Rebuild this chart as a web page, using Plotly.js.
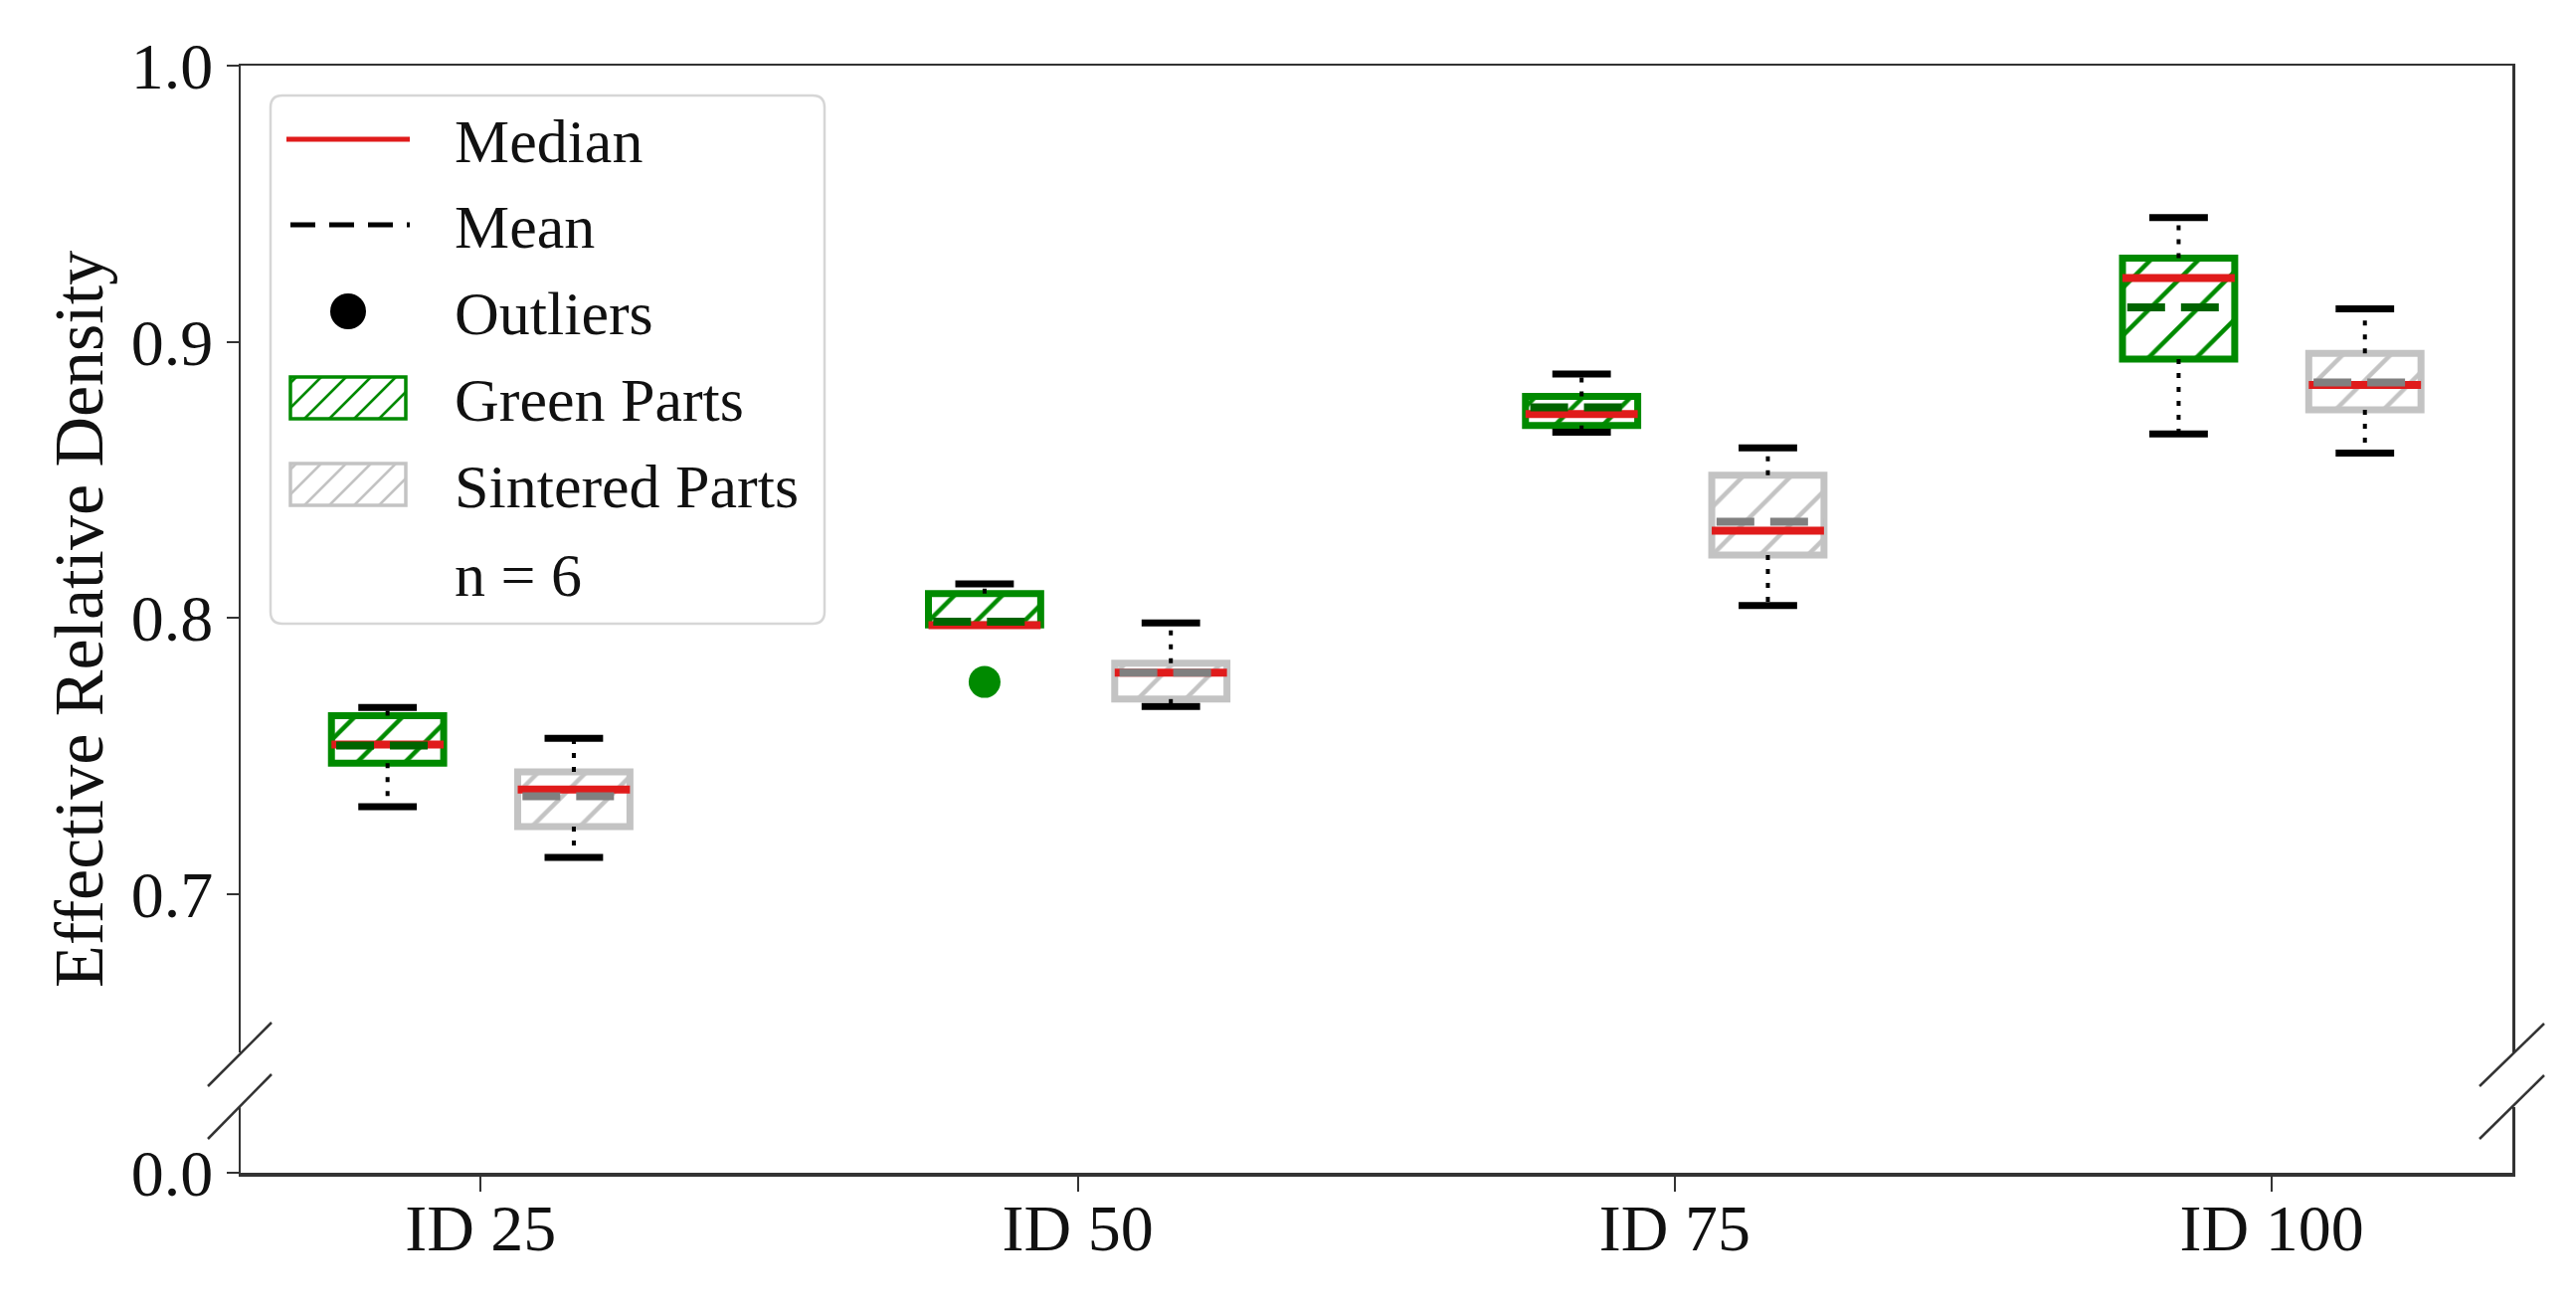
<!DOCTYPE html>
<html>
<head>
<meta charset="utf-8">
<script src="https://cdn.plot.ly/plotly-3.0.1.min.js"></script>
<style>html,body{margin:0;padding:0;background:#fff;}#chart{width:2590px;height:1321px;}</style>
</head>
<body>
<div id="chart"></div>
<script>
// ---------- data ----------
const categories = ['ID 25', 'ID 50', 'ID 75', 'ID 100'];

const greenLower  = [0.7316, 0.7975, 0.8673, 0.8666];
const greenQ1     = [0.7474, 0.7975, 0.8697, 0.8937];
const greenMedian = [0.7541, 0.7974, 0.8738, 0.9231];
const greenQ3     = [0.7646, 0.8088, 0.8802, 0.9303];
const greenUpper  = [0.7676, 0.8123, 0.8883, 0.9450];
const greenMean   = [0.7538, 0.7986, 0.8763, 0.9125];

const sinterLower  = [0.7133, 0.7679, 0.8045, 0.8597];
const sinterQ1     = [0.7244, 0.7706, 0.8228, 0.8754];
const sinterMedian = [0.7378, 0.7802, 0.8316, 0.8844];
const sinterQ3     = [0.7442, 0.7836, 0.8517, 0.8958];
const sinterUpper  = [0.7564, 0.7982, 0.8616, 0.9119];
const sinterMean   = [0.7354, 0.7802, 0.8348, 0.8853];

const greenOutlierCats = ['ID 50'];
const greenOutlierVals = [0.7768];

const legendLabels = ['Median', 'Mean', 'Outliers', 'Green Parts', 'Sintered Parts', 'n = 6'];

// ---------- style ----------
const GREEN = '#008a00', DKGREEN = '#006400', SILVER = '#c3c3c3', GRAY = '#808080', RED = '#e01b1b';
const FONT = 'Liberation Serif, Times New Roman, serif';
const OFF = 0.156, BW = 0.188, CW = 0.098;

const L = 242, R = 64, T = 66, B = 142;
const W = 2590 - L - R, H = 1321 - T - B;
const px = x => (x - L) / W;
const py = y => (T + H - y) / H;

const upperBottomPx = 1058, lowerTopPx = 1113;
const upperDom = [(T + H - upperBottomPx) / H, 1];
const lowerDom = [0, (T + H - lowerTopPx) / H];
const unitPx = 2776; // pixels per 1.0 of density
const upperRange = [1.0 - (upperBottomPx - T) / unitPx, 1.0];
const lowerRange = [0, (T + H - lowerTopPx) / unitPx];

function seg(x0s, x1s, y0s, y1s) {
  const x = [], y = [];
  for (let i = 0; i < x0s.length; i++) { x.push(x0s[i], x1s[i], null); y.push(y0s[i], y1s[i], null); }
  return {x, y};
}

function groupTraces(offset, lo, q1, med, q3, up, mean, edge, hatch, meanCol) {
  const pos = categories.map((c, i) => i + offset);
  const tr = [];
  tr.push({
    type: 'bar', x: pos, base: q1, y: q1.map((v, i) => q3[i] - v), width: BW,
    marker: { color: 'white', line: { color: edge, width: 7 },
      pattern: { shape: '/', fgcolor: hatch, bgcolor: 'white', size: 34, solidity: 0.13, fillmode: 'replace' } },
    hoverinfo: 'skip', showlegend: false, xaxis: 'x', yaxis: 'y'
  });
  // whiskers (dotted)
  const wu = seg(pos, pos, q3, up), wl = seg(pos, pos, q1, lo);
  tr.push({ type: 'scatter', mode: 'lines', x: wu.x.concat(wl.x), y: wu.y.concat(wl.y),
    line: { color: 'black', width: 4, dash: '5px,9px' }, hoverinfo: 'skip', showlegend: false });
  // caps
  const cx0 = [], cx1 = [], cy = [];
  pos.forEach((p, i) => {
    cx0.push(p - CW / 2); cx1.push(p + CW / 2); cy.push(up[i]);
    if (lo[i] < q1[i]) { cx0.push(p - CW / 2); cx1.push(p + CW / 2); cy.push(lo[i]); }
  });
  const cs = seg(cx0, cx1, cy, cy);
  tr.push({ type: 'scatter', mode: 'lines', x: cs.x, y: cs.y,
    line: { color: 'black', width: 7 }, hoverinfo: 'skip', showlegend: false });
  // median
  const ms = seg(pos.map(p => p - BW / 2), pos.map(p => p + BW / 2), med, med);
  tr.push({ type: 'scatter', mode: 'lines', x: ms.x, y: ms.y,
    line: { color: RED, width: 8 }, hoverinfo: 'skip', showlegend: false });
  // mean
  const mn = seg(pos.map(p => p - BW / 2 + 0.008), pos.map(p => p + BW / 2), mean, mean);
  tr.push({ type: 'scatter', mode: 'lines', x: mn.x, y: mn.y,
    line: { color: meanCol, width: 8, dash: '38px,16px' }, hoverinfo: 'skip', showlegend: false });
  return tr;
}

const traces = [].concat(
  groupTraces(-OFF, greenLower, greenQ1, greenMedian, greenQ3, greenUpper, greenMean, GREEN, GREEN, DKGREEN),
  groupTraces(OFF, sinterLower, sinterQ1, sinterMedian, sinterQ3, sinterUpper, sinterMean, SILVER, SILVER, GRAY)
);
traces.push({
  type: 'scatter', mode: 'markers',
  x: greenOutlierCats.map(c => categories.indexOf(c) - OFF), y: greenOutlierVals,
  marker: { color: GREEN, size: 32 }, hoverinfo: 'skip', showlegend: false
});
// empty trace so the lower (broken-axis) subplot exists
traces.push({ type: 'scatter', mode: 'markers', x: [], y: [], xaxis: 'x2', yaxis: 'y2', hoverinfo: 'skip', showlegend: false });

// ---------- shapes (legend box, legend glyphs, axis breaks) ----------
const shapes = [];
const LINE = '#333333';
function pline(x0, y0, x1, y1, color, width, dash) {
  shapes.push({ type: 'line', xref: 'paper', yref: 'paper', x0: px(x0), y0: py(y0), x1: px(x1), y1: py(y1),
    line: { color: color, width: width, dash: dash || 'solid' }, layer: 'above' });
}
// axis break marks
[[209, 1092, 273, 1028], [209, 1145, 273, 1080], [2493, 1092, 2558, 1029], [2493, 1145, 2558, 1081]]
  .forEach(s => pline(s[0], s[1], s[2], s[3], LINE, 2.5));

// legend frame (rounded)
const lx0 = 272, lx1 = 829, ly0 = 96, ly1 = 627, rr = 12;
const P = (x, y) => px(x) + ',' + py(y);
shapes.push({
  type: 'path', xref: 'paper', yref: 'paper', layer: 'above',
  path: 'M' + P(lx0 + rr, ly0) + ' L' + P(lx1 - rr, ly0) + ' Q' + P(lx1, ly0) + ' ' + P(lx1, ly0 + rr) +
        ' L' + P(lx1, ly1 - rr) + ' Q' + P(lx1, ly1) + ' ' + P(lx1 - rr, ly1) +
        ' L' + P(lx0 + rr, ly1) + ' Q' + P(lx0, ly1) + ' ' + P(lx0, ly1 - rr) +
        ' L' + P(lx0, ly0 + rr) + ' Q' + P(lx0, ly0) + ' ' + P(lx0 + rr, ly0) + ' Z',
  fillcolor: 'rgba(255,255,255,0.85)', line: { color: '#d6d6d6', width: 2.5 }
});
const rows = [140, 226, 313, 400, 487, 576];
const gx0 = 292, gx1 = 408;
pline(288, rows[0], 412, rows[0], RED, 5);
pline(292, rows[1], 412, rows[1], 'black', 5, '25px,14px');
shapes.push({ type: 'circle', xref: 'paper', yref: 'paper', layer: 'above',
  x0: px(350 - 18), x1: px(350 + 18), y0: py(rows[2] + 18), y1: py(rows[2] - 18),
  fillcolor: 'black', line: { color: 'black', width: 0 } });
function hatchRect(cy, col) {
  const y0 = cy - 21, y1 = cy + 21, step = 25;
  for (let c = gx0 + y0 + 6; c < gx1 + y1; c += step) {
    const xa = Math.max(gx0, c - y1), xb = Math.min(gx1, c - y0);
    if (xb - xa > 2) pline(xa, c - xa, xb, c - xb, col, 2.5);
  }
  shapes.push({ type: 'rect', xref: 'paper', yref: 'paper', layer: 'above',
    x0: px(gx0), x1: px(gx1), y0: py(y1), y1: py(y0), line: { color: col, width: 3.5 } });
}
hatchRect(rows[3], GREEN);
hatchRect(rows[4], SILVER);

// ---------- annotations ----------
const annotations = legendLabels.map((t, i) => ({
  text: t, xref: 'paper', yref: 'paper', x: px(455), y: py(rows[i] + 2), xanchor: 'left', yanchor: 'middle',
  showarrow: false, font: { family: FONT, size: 62, color: '#111' }
}));
annotations.push({
  text: 'Effective Relative Density', xref: 'paper', yref: 'paper', x: px(79), y: py(623),
  xanchor: 'center', yanchor: 'middle', textangle: -90, showarrow: false,
  font: { family: FONT, size: 70, color: '#111' }
});

const xr = [-0.402, 3.403];
const TF = { family: FONT, size: 66, color: '#111' };
const axLine = { showline: true, linecolor: LINE, linewidth: 2.5, showgrid: false, zeroline: false };
const layout = {
  width: 2590, height: 1321,
  margin: { l: L, r: R, t: T, b: B },
  paper_bgcolor: 'white', plot_bgcolor: 'white',
  barmode: 'overlay', showlegend: false,
  font: { family: FONT, size: 60, color: '#111' },
  xaxis: Object.assign({}, axLine, { anchor: 'y', side: 'top', range: xr, showticklabels: false, ticks: '' }),
  xaxis2: Object.assign({}, axLine, { anchor: 'y2', range: xr, linewidth: 3.5,
    tickmode: 'array', tickvals: categories.map((c, i) => i), ticktext: categories,
    ticks: 'outside', ticklen: 15, tickwidth: 2, tickcolor: LINE, tickfont: TF, ticklabelstandoff: -20 }),
  yaxis: Object.assign({}, axLine, { domain: upperDom, range: upperRange, anchor: 'x', mirror: true,
    tickmode: 'array', tickvals: [0.7, 0.8, 0.9, 1.0], tickformat: '.1f',
    ticks: 'outside', ticklen: 12, tickwidth: 2, tickcolor: LINE, tickfont: TF }),
  yaxis2: Object.assign({}, axLine, { domain: lowerDom, range: lowerRange, anchor: 'x2', mirror: true,
    tickmode: 'array', tickvals: [0.0], tickformat: '.1f',
    ticks: 'outside', ticklen: 12, tickwidth: 2, tickcolor: LINE, tickfont: TF }),
  shapes: shapes,
  annotations: annotations
};

Plotly.newPlot('chart', traces, layout, { staticPlot: true, displayModeBar: false });
</script>
</body>
</html>
